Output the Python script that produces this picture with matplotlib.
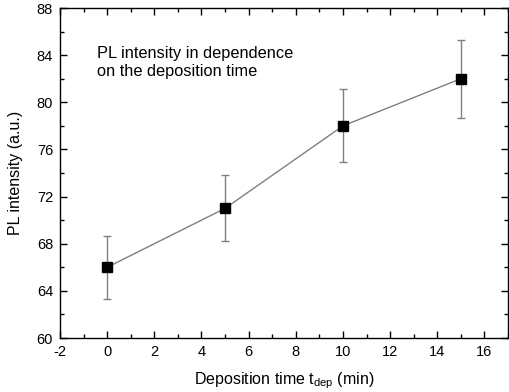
import matplotlib
matplotlib.use("Agg")
import matplotlib.pyplot as plt
from matplotlib.ticker import MultipleLocator

plt.rcParams['font.family'] = ['Liberation Sans', 'DejaVu Sans']
plt.rcParams['axes.unicode_minus'] = False

time_min = [0, 5, 10, 15]
pl_intensity = [66.0, 71.0, 78.0, 82.0]
pl_error = [2.65, 2.8, 3.1, 3.3]

fig = plt.figure(figsize=(5.10, 3.92), dpi=100)
ax = fig.add_axes([60/510, 1-338/392, (508-60)/510, (338-8)/392])

ax.errorbar(time_min, pl_intensity, yerr=pl_error, color='#808080', lw=1.0,
            elinewidth=1.0, capsize=3, capthick=1.0, zorder=2)
ax.plot(time_min, pl_intensity, 's', color='black', ms=6.5, zorder=3)

ax.set_xlim(-2, 17)
ax.set_ylim(60, 88)
ax.xaxis.set_major_locator(MultipleLocator(2))
ax.xaxis.set_minor_locator(MultipleLocator(1))
ax.yaxis.set_major_locator(MultipleLocator(4))
ax.yaxis.set_minor_locator(MultipleLocator(2))
ax.tick_params(which='both', direction='in', top=True, right=True, labelsize=10.5, width=1.0)
ax.tick_params(which='major', length=5, pad=5)
ax.tick_params(which='minor', length=3)
for s in ax.spines.values():
    s.set_linewidth(1.0)

ax.set_xlabel(r'Deposition time t$_{\mathregular{dep}}$ (min)', fontsize=11.5, labelpad=8.5)
ax.set_ylabel('PL intensity (a.u.)', fontsize=11.5, labelpad=10)

ax.text(0.082, 0.885, 'PL intensity in dependence\non the deposition time',
        transform=ax.transAxes, fontsize=11.8, va='top', ha='left', linespacing=1.25)

fig.savefig('out.png', dpi=100)
